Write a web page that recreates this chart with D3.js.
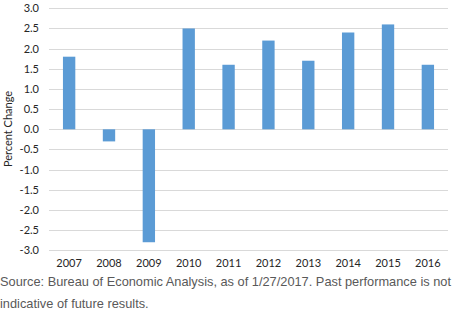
<!DOCTYPE html>
<html><head><meta charset="utf-8">
<script src="https://cdn.jsdelivr.net/npm/d3@7"></script>
<style>body{margin:0;background:#fff}</style>
</head><body>
<svg id="c" width="458" height="316"></svg>
<script>
const years = ["2007","2008","2009","2010","2011","2012","2013","2014","2015","2016"];
const values = [1.8, -0.3, -2.8, 2.5, 1.6, 2.2, 1.7, 2.4, 2.6, 1.6];
const yTicks = [3.0, 2.5, 2.0, 1.5, 1.0, 0.5, 0.0, -0.5, -1.0, -1.5, -2.0, -2.5, -3.0];

(function(){
const svg = d3.select("#c");
const pL = 49, pR = 448, pT = 8.3, pB = 250.3;
const x = d3.scaleBand().domain(years).range([pL, pR]).paddingInner(0.69).paddingOuter(0.35);
const y = d3.scaleLinear().domain([-3, 3]).range([pB, pT]);

const font = "Lato, 'Open Sans', sans-serif";
svg.append("g").selectAll("line").data(yTicks).join("line")
  .attr("x1", pL).attr("x2", pR)
  .attr("y1", d => Math.round(y(d)) + 0.5).attr("y2", d => Math.round(y(d)) + 0.5)
  .attr("stroke", "#d9d9d9").attr("stroke-width", 1);

svg.append("g").selectAll("rect").data(values).join("rect")
  .attr("x", (d, i) => x(years[i]))
  .attr("width", x.bandwidth())
  .attr("y", d => y(Math.max(0, d)))
  .attr("height", d => Math.abs(y(d) - y(0)))
  .attr("fill", "#5b9bd5");

const yAxis = d3.axisLeft(y).tickValues(yTicks).tickFormat(d3.format(".1f")).tickSize(0).tickPadding(0);
const ga = svg.append("g").attr("transform", `translate(${pL - 10},0)`).call(yAxis);
ga.select(".domain").remove();
ga.selectAll("text").attr("font-family", font).attr("font-size", "11px").attr("fill", "#262626").text(d => d3.format(".1f")(d).replace("\u2212", "-"));

const xAxis = d3.axisBottom(x).tickSize(0).tickPadding(0);
const gx = svg.append("g").attr("transform", `translate(0,259)`).call(xAxis);
gx.select(".domain").remove();
gx.selectAll("text").attr("font-family", font).attr("font-size", "11px").attr("fill", "#262626");

svg.append("text").attr("transform", `translate(12,129) rotate(-90)`)
  .attr("text-anchor", "middle").attr("font-family", font).attr("font-size", "11px").attr("fill", "#262626")
  .text("Percent Change");

const src = ["Source: Bureau of Economic Analysis, as of 1/27/2017. Past performance is not", "indicative of future results."];
svg.append("g").selectAll("text").data(src).join("text")
  .attr("x", 0).attr("y", (d, i) => 286 + i * 22)
  .attr("font-family", "'Liberation Sans', Arial, sans-serif").attr("font-size", "12.8px").attr("fill", "#595959")
  .text(d => d);
})();
</script>
</body></html>
